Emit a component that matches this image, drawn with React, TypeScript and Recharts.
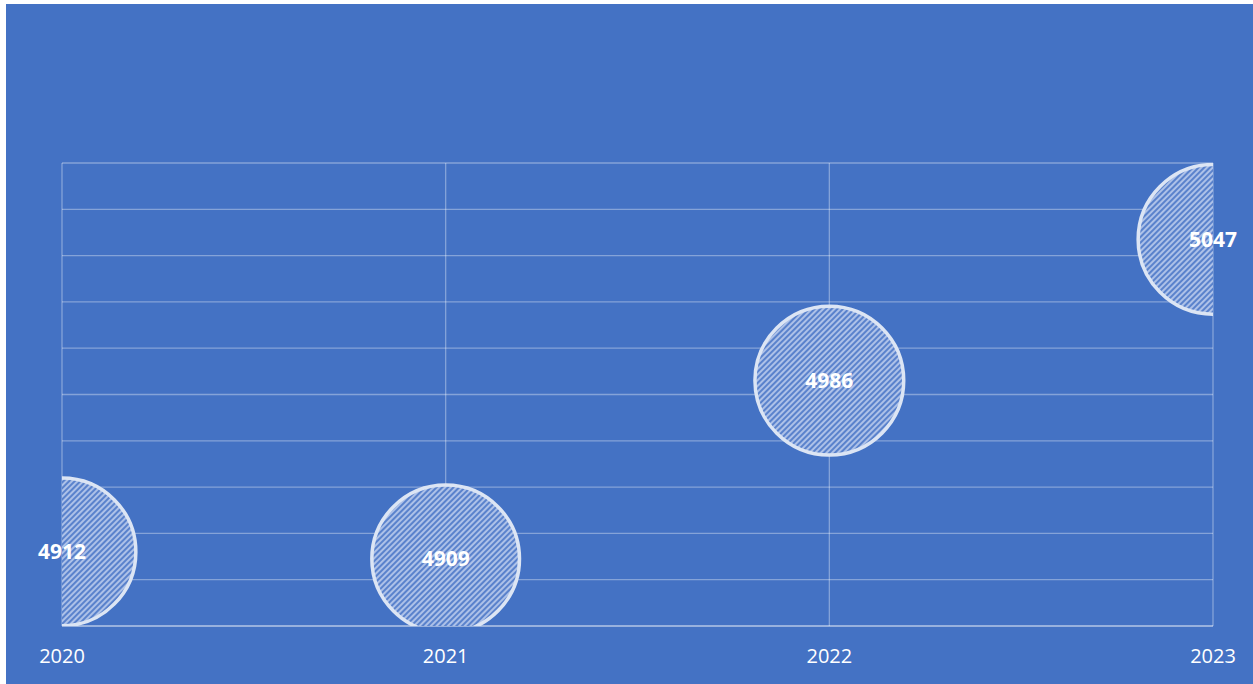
import { ScatterChart, Scatter, XAxis, YAxis, ZAxis, CartesianGrid, LabelList } from 'recharts';

const years = [2020, 2021, 2022, 2023];
const values = [4912, 4909, 4986, 5047];
const yTicks = [4880, 4900, 4920, 4940, 4960, 4980, 5000, 5020, 5040, 5060, 5080];

const data = years.map((year, i) => ({ year, value: values[i], size: values[i] }));

const BG = '#4472C4';
const FONT = '"Open Sans", sans-serif';

export default function App() {
  return (
    <div style={{ position: 'absolute', left: 6, top: 4, width: 1247, height: 680, background: BG }}>
      <ScatterChart width={1247} height={680} margin={{ top: 159, right: 40, bottom: 0, left: 56 }}>
        <defs>
          <pattern id="hatch" width="4" height="4" patternUnits="userSpaceOnUse" patternTransform="rotate(45)">
            <rect width="4" height="4" fill="#5a82cc" />
            <rect width="2" height="4" fill="#adc1e8" />
          </pattern>
        </defs>
        <CartesianGrid stroke="#ffffff" strokeOpacity={0.35} strokeWidth={1.3} />
        <XAxis
          type="number"
          dataKey="year"
          domain={[2020, 2023]}
          ticks={years}
          allowDataOverflow
          height={58}
          tickSize={0}
          tickMargin={23}
          axisLine={{ stroke: '#ffffff', strokeOpacity: 0.35, strokeWidth: 1.3 }}
          tick={{ fill: '#ffffff', fontSize: 20, fontFamily: FONT }}
        />
        <YAxis
          type="number"
          dataKey="value"
          domain={[4880, 5080]}
          ticks={yTicks}
          allowDataOverflow
          hide
          width={0}
        />
        <ZAxis type="number" dataKey="size" domain={[0, 5047]} range={[0, 17600]} />
        <Scatter
          data={data}
          fill="url(#hatch)"
          stroke="#dce5f4"
          strokeWidth={3.5}
          isAnimationActive={false}
        >
          <LabelList
            dataKey="value"
            position="center"
            fill="#ffffff"
            fontSize={21}
            fontWeight={700}
            fontFamily={FONT}
          />
        </Scatter>
      </ScatterChart>
    </div>
  );
}
